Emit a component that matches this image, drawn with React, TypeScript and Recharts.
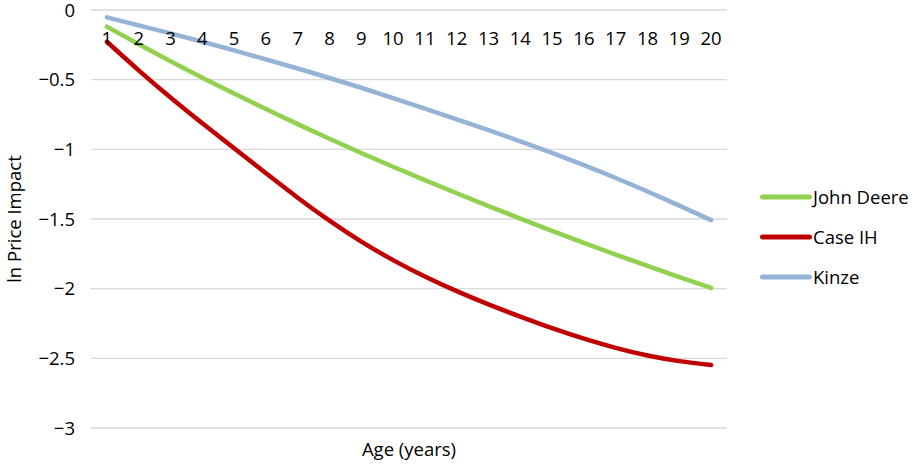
import React from 'react';
import { LineChart, Line, XAxis, YAxis, CartesianGrid, Legend } from 'recharts';

const ages = [1, 2, 3, 4, 5, 6, 7, 8, 9, 10, 11, 12, 13, 14, 15, 16, 17, 18, 19, 20];
const johnDeere = [-0.12, -0.246, -0.368, -0.486, -0.6, -0.711, -0.819, -0.924, -1.026, -1.125, -1.221, -1.315, -1.407, -1.497, -1.585, -1.671, -1.755, -1.837, -1.917, -1.995];
const caseIH = [-0.228, -0.433, -0.628, -0.813, -0.993, -1.171, -1.347, -1.512, -1.662, -1.795, -1.913, -2.018, -2.113, -2.201, -2.284, -2.359, -2.425, -2.48, -2.52, -2.548];
const kinze = [-0.053, -0.11, -0.168, -0.228, -0.29, -0.354, -0.42, -0.488, -0.558, -0.632, -0.708, -0.785, -0.862, -0.942, -1.026, -1.114, -1.206, -1.303, -1.404, -1.508];
const yTicks = [0, -0.5, -1, -1.5, -2, -2.5, -3];

const seriesKeys = ['johnDeere', 'caseIH', 'kinze'];
const seriesNames: Record<string, string> = { johnDeere: 'John Deere', caseIH: 'Case IH', kinze: 'Kinze' };
const colors: Record<string, string> = { johnDeere: '#92D050', caseIH: '#C00000', kinze: '#95B3D7' };

const data = ages.map((a, i) => ({
  age: String(a),
  johnDeere: johnDeere[i],
  caseIH: caseIH[i],
  kinze: kinze[i],
}));

const FONT = '"Open Sans", sans-serif';
const FS = 18.5;

const fmtY = (v: number) => (v === 0 ? '0' : '\u2212' + String(Math.abs(v)));

const renderLegend = (props: any) => {
  const payload = props.payload || [];
  const ordered = seriesKeys
    .map((k) => payload.find((p: any) => p.dataKey === k || p.value === seriesNames[k]))
    .filter(Boolean);
  return (
    <div style={{ fontFamily: FONT, fontSize: FS, color: '#000' }}>
      {ordered.map((entry: any) => (
        <div key={entry.value} style={{ display: 'flex', alignItems: 'center', height: 40 }}>
          <svg width={52} height={10} style={{ display: 'block' }}>
            <line x1={2.5} y1={5} x2={49.5} y2={5} stroke={entry.color} strokeWidth={5} strokeLinecap="round" />
          </svg>
          <span style={{ marginLeft: 1, lineHeight: '40px' }}>{entry.value}</span>
        </div>
      ))}
    </div>
  );
};

const TopTick = (props: any) => {
  const { x, y, payload } = props;
  return (
    <text x={x} y={y} dy={35} textAnchor="middle" fill="#000" fontSize={FS} fontFamily={FONT}>
      {payload.value}
    </text>
  );
};

export default function App() {
  return (
    <div style={{ position: 'absolute', left: 0, top: 0, width: 917, height: 466, background: '#fff' }}>
      <LineChart
        width={917}
        height={466}
        data={data}
        margin={{ top: 0, right: 190, bottom: 0, left: 0 }}
        style={{ fontFamily: FONT }}
      >
        <CartesianGrid horizontal vertical={false} stroke="#d9d9d9" strokeWidth={1.3} xAxisId="top" yAxisId="y" />
        <XAxis
          xAxisId="top"
          dataKey="age"
          orientation="top"
          scale="band"
          height={10}
          axisLine={false}
          tickLine={false}
          tickSize={0}
          tickMargin={0}
          interval={0}
          tick={<TopTick />}
        />
        <XAxis
          xAxisId="bottom"
          dataKey="age"
          orientation="bottom"
          scale="band"
          height={38}
          axisLine={false}
          tickLine={false}
          tick={false}
          label={{ value: 'Age (years)', position: 'insideBottom', offset: 10, fill: '#000', fontSize: FS, fontFamily: FONT }}
        />
        <YAxis
          yAxisId="y"
          type="number"
          domain={[-3, 0]}
          ticks={yTicks}
          interval={0}
          width={91}
          axisLine={false}
          tickLine={false}
          tickSize={0}
          tickMargin={16}
          tickFormatter={fmtY}
          tick={{ fill: '#000', fontSize: FS, fontFamily: FONT }}
          label={{ value: 'ln Price Impact', angle: -90, position: 'insideLeft', offset: 14, fill: '#000', fontSize: FS, fontFamily: FONT, style: { textAnchor: 'middle' } }}
        />
        <Legend
          layout="vertical"
          align="center"
          verticalAlign="middle"
          wrapperStyle={{ position: 'absolute', left: 760, top: 177, width: 157 }}
          content={renderLegend}
        />
        {seriesKeys.map((k) => (
          <Line
            key={k}
            xAxisId="top"
            yAxisId="y"
            type="natural"
            dataKey={k}
            name={seriesNames[k]}
            stroke={colors[k]}
            strokeWidth={4.5}
            strokeLinecap="round"
            dot={false}
            activeDot={false}
            isAnimationActive={false}
          />
        ))}
      </LineChart>
    </div>
  );
}
